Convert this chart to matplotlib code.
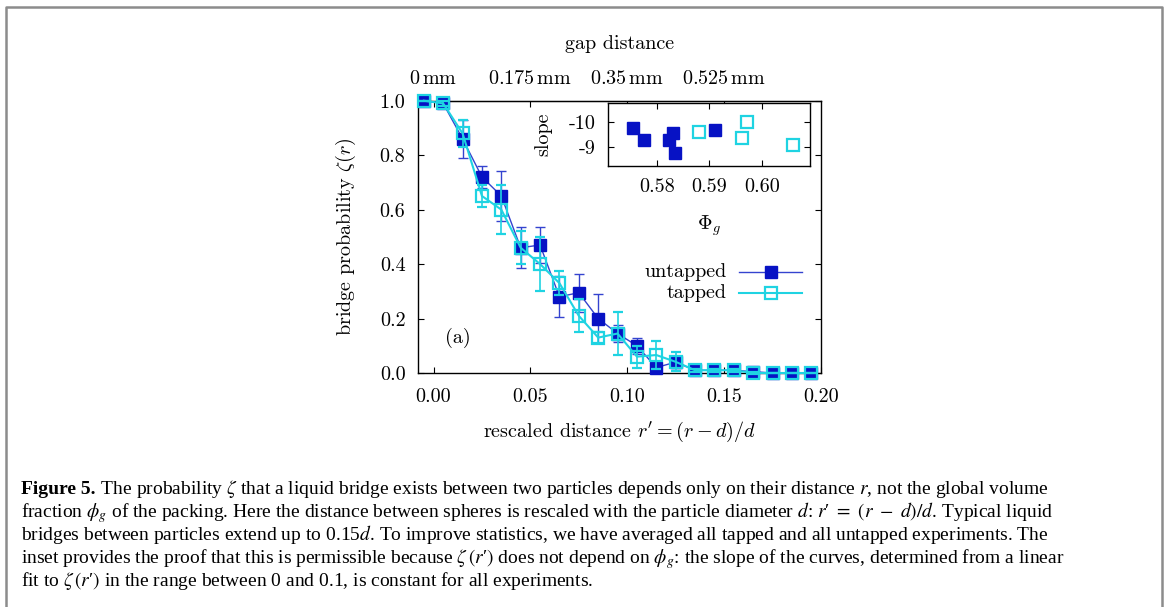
import matplotlib
matplotlib.use("Agg")
import matplotlib.pyplot as plt
from matplotlib.lines import Line2D

# ---------------- data ----------------
r_rescaled = [-0.005, 0.005, 0.015, 0.025, 0.035, 0.045, 0.055, 0.065, 0.075, 0.085,
              0.095, 0.105, 0.115, 0.125, 0.135, 0.145, 0.155, 0.165, 0.175, 0.185, 0.195]
untapped = [1.0, 0.99, 0.86, 0.72, 0.65, 0.46, 0.47, 0.28, 0.295, 0.20,
            0.145, 0.10, 0.02, 0.04, 0.01, 0.01, 0.01, 0.005, 0.0, 0.0, 0.0]
untapped_err = [0.0, 0.01, 0.07, 0.04, 0.09, 0.075, 0.065, 0.075, 0.07, 0.09,
                0.03, 0.03, 0.02, 0.02, 0.005, 0.005, 0.005, 0.005, 0.0, 0.0, 0.0]
tapped = [1.0, 0.99, 0.88, 0.65, 0.60, 0.46, 0.40, 0.33, 0.21, 0.13,
          0.145, 0.06, 0.066, 0.041, 0.01, 0.01, 0.01, 0.0, 0.0, 0.0, 0.0]
tapped_err = [0.0, 0.01, 0.05, 0.04, 0.09, 0.06, 0.10, 0.045, 0.06, 0.02,
              0.08, 0.04, 0.05, 0.035, 0.005, 0.005, 0.005, 0.005, 0.0, 0.0, 0.0]

x_ticks = [0.00, 0.05, 0.10, 0.15, 0.20]
x_ticklabels = ["0.00", "0.05", "0.10", "0.15", "0.20"]
y_ticks = [0.0, 0.2, 0.4, 0.6, 0.8, 1.0]
y_ticklabels = ["0.0", "0.2", "0.4", "0.6", "0.8", "1.0"]
top_ticks = [0.00, 0.05, 0.10, 0.15]
top_ticklabels = [r"$0\,\mathrm{mm}$", r"$0.175\,\mathrm{mm}$", r"$0.35\,\mathrm{mm}$", r"$0.525\,\mathrm{mm}$"]

# inset: slope vs global volume fraction
phi_untapped = [0.5755, 0.5775, 0.5830, 0.5823, 0.5835, 0.5911]
slope_untapped = [-9.74, -9.29, -9.55, -9.29, -8.79, -9.68]
phi_tapped = [0.5881, 0.5971, 0.5962, 0.6059]
slope_tapped = [-9.59, -9.98, -9.35, -9.09]
inset_xticks = [0.58, 0.59, 0.60]
inset_xticklabels = ["0.58", "0.59", "0.60"]
inset_yticks = [-10, -9]
inset_yticklabels = ["-10", "-9"]

caption_lines = [
    (r"Figure 5.", r" The probability $\zeta$ that a liquid bridge exists between two particles depends only on their distance $r$, not the global volume"),
    ("", r"fraction $\phi_g$ of the packing. Here the distance between spheres is rescaled with the particle diameter $d$: $r$′ $=\ (r\ -\ d)/d$. Typical liquid"),
    ("", r"bridges between particles extend up to 0.15$d$. To improve statistics, we have averaged all tapped and all untapped experiments. The"),
    ("", r"inset provides the proof that this is permissible because $\zeta\,(r$′$)$ does not depend on $\phi_g$: the slope of the curves, determined from a linear"),
    ("", r"fit to $\zeta\,(r$′$)$ in the range between 0 and 0.1, is constant for all experiments."),
]

# ---------------- style ----------------
plt.rcParams["font.family"] = ["cmr10", "DejaVu Serif"]
plt.rcParams["mathtext.fontset"] = "cm"
plt.rcParams["axes.unicode_minus"] = False

C_UN = "#0712c4"
C_UN_LINE = "#3443cf"
C_TA = "#1fd3e2"
FS = 14.5

W, H = 1166, 607
fig = plt.figure(figsize=(W / 100, H / 100), dpi=100)
fig.patch.set_facecolor("white")

ax = fig.add_axes([418 / W, 1 - 373 / H, 403 / W, 272.3 / H])
ax.errorbar(r_rescaled, untapped, yerr=untapped_err, color=C_UN_LINE, lw=1.0,
            marker="s", ms=8, mfc=C_UN, mec=C_UN, ecolor=C_UN_LINE, elinewidth=1.0,
            capsize=3.5, capthick=1.0, clip_on=False, zorder=3)
ax.errorbar(r_rescaled, tapped, yerr=tapped_err, color=C_TA, lw=1.5,
            marker="s", ms=8, mfc="none", mec=C_TA, mew=1.6, ecolor=C_TA, elinewidth=1.2,
            capsize=3.5, capthick=1.2, clip_on=False, zorder=4)
ax.set_xlim(-0.008, 0.20)
ax.set_ylim(0.0, 1.0)
ax.set_xticks(x_ticks)
ax.set_xticklabels(x_ticklabels)
ax.set_yticks(y_ticks)
ax.set_yticklabels(y_ticklabels)
ax.tick_params(direction="in", length=4.5, width=0.8, labelsize=FS, right=True, top=False)
ax.tick_params(axis="x", pad=11)
ax.tick_params(axis="y", pad=9)
for s in ax.spines.values():
    s.set_linewidth(1.0)
ax.set_xlabel(r"rescaled distance $r^{\prime} = (r - d)/d$", fontsize=FS, labelpad=10)
ax.set_ylabel(r"bridge probability $\zeta(r)$", fontsize=FS, labelpad=16)

sec = ax.secondary_xaxis("top")
sec.set_xticks(top_ticks)
sec.set_xticklabels(top_ticklabels)
sec.tick_params(direction="in", length=4.5, width=0.8, labelsize=FS, pad=9)
sec.set_xlabel("gap distance", fontsize=FS, labelpad=15)

ax.text(0.006, 0.128, "(a)", fontsize=FS, ha="left", va="center")

# legend drawn gnuplot-style (text right-aligned, sample to the right)
for yy, lab, kw in [(0.372, "untapped", dict(color=C_UN_LINE, lw=1.0, mfc=C_UN, mec=C_UN)),
                    (0.293, "tapped", dict(color=C_TA, lw=1.5, mfc="none", mec=C_TA, mew=1.6))]:
    ax.text(0.766, yy, lab, transform=ax.transAxes, fontsize=FS, ha="right", va="center")
    ax.add_line(Line2D([0.797, 0.952], [yy, yy], transform=ax.transAxes, **{k: v for k, v in kw.items() if k in ("color", "lw")}))
    ax.add_line(Line2D([0.875], [yy], transform=ax.transAxes, marker="s", ms=8, ls="none",
                       **{k: v for k, v in kw.items() if k in ("mfc", "mec", "mew")}))

# inset
ins = fig.add_axes([608 / W, 1 - 166 / H, 202 / W, 63 / H])
ins.plot(phi_untapped, slope_untapped, ls="none", marker="s", ms=8.5, mfc=C_UN, mec=C_UN)
ins.plot(phi_tapped, slope_tapped, ls="none", marker="s", ms=8.5, mfc="none", mec=C_TA, mew=1.6)
ins.set_xlim(0.5707, 0.6092)
ins.set_ylim(-8.27, -10.73)
ins.set_xticks(inset_xticks)
ins.set_xticklabels(inset_xticklabels)
ins.set_yticks(inset_yticks)
ins.set_yticklabels(inset_yticklabels)
ins.tick_params(direction="in", length=4.5, width=0.8, labelsize=FS, top=True, right=True, pad=9)
for s in ins.spines.values():
    s.set_linewidth(1.0)
ins.set_xlabel(r"$\Phi_g$", fontsize=FS, labelpad=12)
ins.set_ylabel("slope", fontsize=FS, labelpad=12)

# frame
fc = "#8c8c8c"
fig.add_artist(Line2D([6 / W, 6 / W, 1162 / W, 1162 / W], [0, 1 - 7 / H, 1 - 7 / H, 0],
                      transform=fig.transFigure, color=fc, lw=1.8))

# caption
renderer = fig.canvas.get_renderer()
cap_fs = 14.0
x0 = 21 / W
baselines = [494, 517, 540, 563, 586]
for (bold, rest), b in zip(caption_lines, baselines):
    y = 1 - b / H
    x = x0
    if bold:
        t = fig.text(x, y, bold, fontsize=cap_fs, fontweight="bold", family="Liberation Serif",
                     ha="left", va="baseline")
        bb = t.get_window_extent(renderer)
        x = bb.x1 / W
    fig.text(x, y, rest, fontsize=cap_fs, family="Liberation Serif", math_fontfamily="stix",
             ha="left", va="baseline")

fig.savefig("out.png", dpi=100, facecolor="white")
